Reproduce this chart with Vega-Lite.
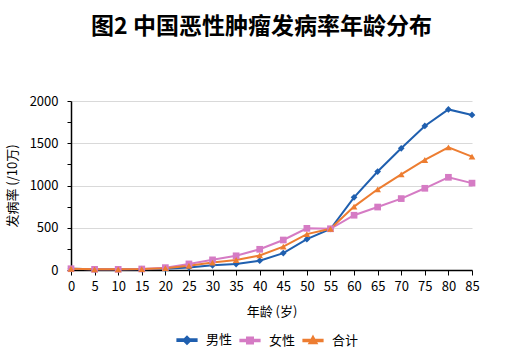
{
  "$schema": "https://vega.github.io/schema/vega-lite/v6.json",
  "width": 401,
  "height": 169,
  "autosize": "none",
  "padding": {"left": 71, "top": 101, "right": 36, "bottom": 88},
  "background": "white",
  "title": {"text": "图2 中国恶性肿瘤发病率年龄分布", "font": "Noto Sans CJK SC", "fontSize": 23, "fontWeight": "bold", "color": "#000000", "anchor": "middle", "offset": 56, "dx": -10},
  "config": {"view": {"stroke": null}, "font": "Noto Sans CJK SC"},
  "data": {"values": [
    {"age": 0, "s": "男性", "v": 15}, {"age": 5, "s": "男性", "v": 8}, {"age": 10, "s": "男性", "v": 8}, {"age": 15, "s": "男性", "v": 10}, {"age": 20, "s": "男性", "v": 15}, {"age": 25, "s": "男性", "v": 30}, {"age": 30, "s": "男性", "v": 55}, {"age": 35, "s": "男性", "v": 70}, {"age": 40, "s": "男性", "v": 110}, {"age": 45, "s": "男性", "v": 200}, {"age": 50, "s": "男性", "v": 365}, {"age": 55, "s": "男性", "v": 485}, {"age": 60, "s": "男性", "v": 860}, {"age": 65, "s": "男性", "v": 1165}, {"age": 70, "s": "男性", "v": 1440}, {"age": 75, "s": "男性", "v": 1705}, {"age": 80, "s": "男性", "v": 1900}, {"age": 85, "s": "男性", "v": 1835},
    {"age": 0, "s": "女性", "v": 15}, {"age": 5, "s": "女性", "v": 8}, {"age": 10, "s": "女性", "v": 8}, {"age": 15, "s": "女性", "v": 12}, {"age": 20, "s": "女性", "v": 28}, {"age": 25, "s": "女性", "v": 72}, {"age": 30, "s": "女性", "v": 120}, {"age": 35, "s": "女性", "v": 168}, {"age": 40, "s": "女性", "v": 245}, {"age": 45, "s": "女性", "v": 355}, {"age": 50, "s": "女性", "v": 493}, {"age": 55, "s": "女性", "v": 488}, {"age": 60, "s": "女性", "v": 648}, {"age": 65, "s": "女性", "v": 745}, {"age": 70, "s": "女性", "v": 845}, {"age": 75, "s": "女性", "v": 967}, {"age": 80, "s": "女性", "v": 1097}, {"age": 85, "s": "女性", "v": 1028},
    {"age": 0, "s": "合计", "v": 15}, {"age": 5, "s": "合计", "v": 8}, {"age": 10, "s": "合计", "v": 8}, {"age": 15, "s": "合计", "v": 11}, {"age": 20, "s": "合计", "v": 22}, {"age": 25, "s": "合计", "v": 50}, {"age": 30, "s": "合计", "v": 88}, {"age": 35, "s": "合计", "v": 118}, {"age": 40, "s": "合计", "v": 172}, {"age": 45, "s": "合计", "v": 276}, {"age": 50, "s": "合计", "v": 425}, {"age": 55, "s": "合计", "v": 487}, {"age": 60, "s": "合计", "v": 750}, {"age": 65, "s": "合计", "v": 955}, {"age": 70, "s": "合计", "v": 1132}, {"age": 75, "s": "合计", "v": 1302}, {"age": 80, "s": "合计", "v": 1452}, {"age": 85, "s": "合计", "v": 1342}
  ]},
  "encoding": {
    "x": {"field": "age", "type": "quantitative", "scale": {"domain": [0, 85], "nice": false, "zero": false},
      "axis": {"title": "年龄 (岁)", "values": [0,5,10,15,20,25,30,35,40,45,50,55,60,65,70,75,80,85], "grid": false, "domainColor": "#000000", "domainWidth": 1.5, "tickColor": "#000000", "tickSize": 5, "labelPadding": 5, "labelFontSize": 13, "labelColor": "#000000", "labelFont": "Noto Sans CJK SC", "titleFont": "Noto Sans CJK SC", "titleFontSize": 13, "titleFontWeight": "normal", "titleColor": "#000000", "titlePadding": 12, "labelFlush": false}},
    "y": {"field": "v", "type": "quantitative", "scale": {"domain": [0, 2000], "nice": false},
      "axis": {"title": "发病率 (/10万)", "values": [0,250,500,750,1000,1250,1500,1750,2000], "labelExpr": "datum.value % 500 === 0 ? datum.label : ''", "format": "d", "gridColor": "#D9D9D9", "gridOpacity": {"condition": {"test": "datum.value % 500 === 0 && datum.value > 0", "value": 1}, "value": 0}, "domainColor": "#000000", "domainWidth": 1.5, "tickColor": "#000000", "tickSize": 4, "labelPadding": 9, "labelFontSize": 13, "labelColor": "#000000", "labelFont": "Noto Sans CJK SC", "titleFont": "Noto Sans CJK SC", "titleFontSize": 13, "titleFontWeight": "normal", "titleColor": "#000000", "titlePadding": 10}},
    "color": {"field": "s", "type": "nominal", "sort": ["男性", "女性", "合计"], "scale": {"domain": ["男性", "女性", "合计"], "range": ["#1F5FAF", "#D57BC4", "#ED7D31"]},
      "legend": {"title": " ", "titleOrient": "left", "titlePadding": 103, "orient": "bottom", "offset": 9, "direction": "horizontal", "labelFont": "Noto Sans CJK SC", "labelFontSize": 13, "labelColor": "#000000", "symbolSize": 576, "symbolStrokeWidth": 2, "columnPadding": 3, "labelOffset": 6, "symbolType": "stroke",
        "encode": {"symbols": {"update": {"shape": {"signal": "datum.value === '男性' ? 'M-0.8,-0.07L0.8,-0.07L0.8,0.07L-0.8,0.07ZM0,-0.3L0.3,0L0,0.3L-0.3,0Z' : datum.value === '女性' ? 'M-0.8,-0.07L0.8,-0.07L0.8,0.07L-0.8,0.07ZM-0.25,-0.25L0.25,-0.25L0.25,0.25L-0.25,0.25Z' : 'M-0.8,-0.07L0.8,-0.07L0.8,0.07L-0.8,0.07ZM0,-0.32L0.3,0.22L-0.3,0.22Z'"}, "fill": {"scale": "color", "field": "value"}, "stroke": {"scale": "color", "field": "value"}, "fillOpacity": {"value": 1}, "strokeOpacity": {"value": 1}, "strokeWidth": {"value": 2}}}}}}
  },
  "layer": [
    {"mark": {"type": "line", "strokeWidth": 2}},
    {"transform": [{"filter": "datum.s === '男性'"}], "mark": {"type": "point", "shape": "diamond", "filled": true, "opacity": 1, "size": 45}},
    {"transform": [{"filter": "datum.s === '女性'"}], "mark": {"type": "point", "shape": "square", "filled": true, "opacity": 1, "size": 45}},
    {"transform": [{"filter": "datum.s === '合计'"}], "mark": {"type": "point", "shape": "triangle-up", "filled": true, "opacity": 1, "size": 45}}
  ]
}
